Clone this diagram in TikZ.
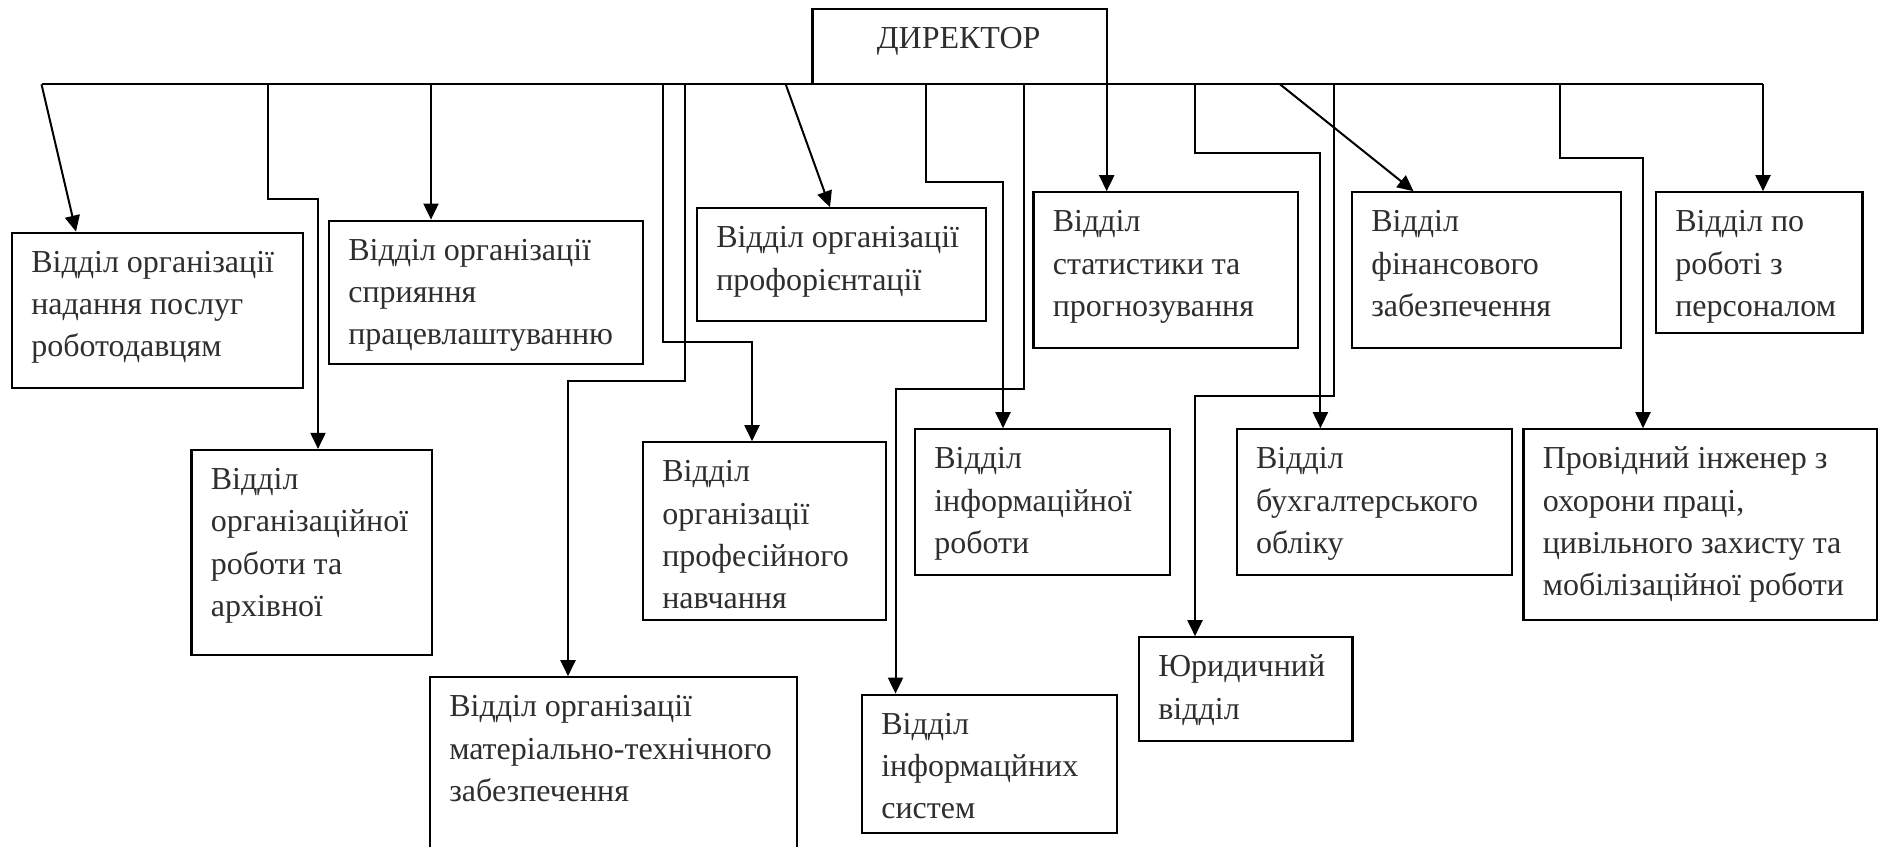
\documentclass[tikz,border=0pt]{standalone}
\usepackage{fontspec}
\setmainfont{Liberation Serif}
\usetikzlibrary{arrows.meta,fit}
\definecolor{txtc}{HTML}{2E2E2E}
\newcommand\orgunit[6]{%
  \node[orgbox, fit={(#2,#3) (#4,#5)}] (#1) {};
  \node[txt] (#1t) at ([xshift=10pt,yshift=-5.2pt]#1.north west) {\strut #6};
}
\begin{document}
\begin{tikzpicture}[x=0.5pt,y=-0.5pt,
  orgbox/.style={draw=black, line width=1.1pt, inner sep=0pt},
  txt/.style={anchor=north west, inner sep=0pt, align=left, text=txtc,
              font=\fontsize{16pt}{21.2pt}\selectfont},
  conn/.style={draw=black, line width=1pt},
  arr/.style={conn, -{Triangle[length=8pt,width=7.5pt]}},
]
\useasboundingbox (0,0) rectangle (1879,846);

% director
\node[orgbox, fit={(812.5,9.3) (1106.7,84.3)}] (dir) {};
\node[txt, anchor=base] (dirt) at (958.7,48.3) {ДИРЕКТОР};

% units
\orgunit{b1}{12}{232.7}{303}{387.7}{Відділ організації\\надання послуг\\роботодавцям}
\orgunit{b2}{329}{220.7}{643}{363.7}{Відділ організації\\сприяння\\працевлаштуванню}
\orgunit{b3}{697}{208.3}{986}{321}{Відділ організації\\профорієнтації}
\orgunit{b4}{1033.5}{192.3}{1297.7}{347.7}{Відділ\\статистики та\\прогнозування}
\orgunit{b5}{1352}{192.3}{1621}{347.7}{Відділ\\фінансового\\забезпечення}
\orgunit{b6}{1656}{192.3}{1862.5}{333}{Відділ по\\роботі з\\персоналом}
\orgunit{b8}{643}{442.3}{886}{620}{Відділ\\організації\\професійного\\навчання}
\orgunit{b9}{430}{677.3}{797}{880}{Відділ організації\\матеріально-технічного\\забезпечення}
\orgunit{b10}{915}{429.3}{1170}{575}{Відділ\\інформаційної\\роботи}
\orgunit{b11}{862}{694.7}{1117}{832.7}{Відділ\\інформацйних\\систем}
\orgunit{b12}{1139}{637.3}{1352.4}{741.3}{Юридичний\\відділ}
\orgunit{b13}{1236.8}{429.3}{1512}{575}{Відділ\\бухгалтерського\\обліку}
\orgunit{b14}{1523.5}{429.3}{1876.8}{620}{Провідний інженер з\\охорони праці,\\цивільного захисту та\\мобілізаційної роботи}

% unit with clipped last line
\node[orgbox, fit={(191.5,450) (432,655.3)}] (b7) {};
\begin{scope}
  \clip (191.5,450) rectangle (432,641);
  \node[txt] (b7t) at ([xshift=10pt,yshift=-5.2pt]b7.north west)
    {\strut Відділ\\організаційної\\роботи та\\архівної\\справи};
\end{scope}

% bus
\coordinate (busL) at (41.5,84.3);
\coordinate (busR) at (1763,84.3);
\draw[conn] (busL) -- (busR);

\coordinate (s2) at (268,84.3);
\coordinate (s3) at (431,84.3);
\coordinate (s4) at (662.5,84.3);
\coordinate (s5) at (685,84.3);
\coordinate (s6) at (785.7,84.3);
\coordinate (s7) at (926,84.3);
\coordinate (s8) at (1023.6,84.3);
\coordinate (s9) at (1106.7,84.3);
\coordinate (s10) at (1195,84.3);
\coordinate (s11) at (1280,84.3);
\coordinate (s12) at (1334,84.3);
\coordinate (s13) at (1560,84.3);

% connectors
\draw[arr] (busL) -- (76,0 |- b1.north);
\draw[arr] (s2) -- (268,199) -- (318,199) -- (318,0 |- b7.north);
\draw[arr] (s3) -- (s3 |- b2.north);
\draw[arr] (s4) -- (662.5,341.7) -- (752,341.7) -- (752,0 |- b8.north);
\draw[arr] (s5) -- (685,380.7) -- (568,380.7) -- (568,0 |- b9.north);
\draw[arr] (s6) -- (830,0 |- b3.north);
\draw[arr] (s7) -- (926,181.7) -- (1003,181.7) -- (1003,0 |- b10.north);
\draw[arr] (s8) -- (1023.6,389) -- (895.5,389) -- (895.5,0 |- b11.north);
\draw[arr] (s9) -- (s9 |- b4.north);
\draw[arr] (s10) -- (1195,153) -- (1320.4,153) -- (1320.4,0 |- b13.north);
\draw[arr] (s11) -- (1413.5,0 |- b5.north);
\draw[arr] (s12) -- (1334,396) -- (1195,396) -- (1195,0 |- b12.north);
\draw[arr] (s13) -- (1560,157.7) -- (1643,157.7) -- (1643,0 |- b14.north);
\draw[arr] (busR) -- (busR |- b6.north);
\end{tikzpicture}
\end{document}
